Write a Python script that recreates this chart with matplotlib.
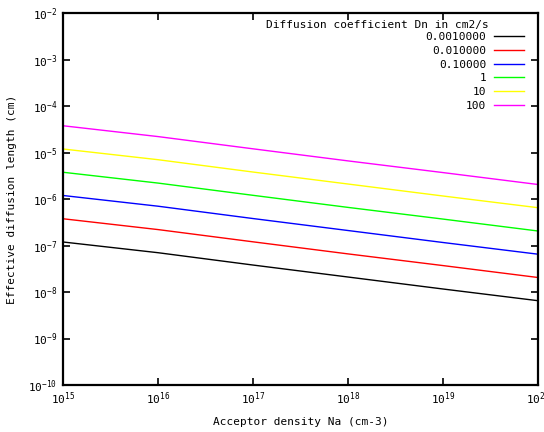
import matplotlib
matplotlib.use("Agg")
import matplotlib.pyplot as plt
from matplotlib.ticker import LogLocator, NullLocator

plt.rcParams['font.family'] = ['DejaVu Sans Mono']
plt.rcParams['mathtext.fontset'] = 'custom'
plt.rcParams['mathtext.rm'] = 'DejaVu Sans Mono'
plt.rcParams['mathtext.it'] = 'DejaVu Sans Mono'

# Acceptor density (cm-3)
na = [1e15, 1e16, 1e17, 1e18, 1e19, 1e20]

# Effective diffusion length (cm) for each diffusion coefficient Dn
l_0001 = [1.19e-7, 7.0e-8, 3.8e-8, 2.1e-8, 1.16e-8, 6.5e-9]
l_001 = [3.76e-7, 2.2e-7, 1.2e-7, 6.6e-8, 3.7e-8, 2.05e-8]
l_01 = [1.19e-6, 7.0e-7, 3.8e-7, 2.1e-7, 1.16e-7, 6.5e-8]
l_1 = [3.76e-6, 2.2e-6, 1.2e-6, 6.6e-7, 3.7e-7, 2.05e-7]
l_10 = [1.19e-5, 7.0e-6, 3.8e-6, 2.1e-6, 1.16e-6, 6.5e-7]
l_100 = [3.76e-5, 2.2e-5, 1.2e-5, 6.6e-6, 3.7e-6, 2.05e-6]

labels = ["0.0010000", "0.010000", "0.10000", "1", "10", "100"]
series = [l_0001, l_001, l_01, l_1, l_10, l_100]
colors = ["#000000", "#ff0000", "#0000ff", "#00ff00", "#ffff00", "#ff00ff"]

fig = plt.figure(figsize=(5.44, 4.32), dpi=100)
ax = fig.add_axes([63 / 544, 47 / 432, 475 / 544, 372 / 432])

for y, c, lab in zip(series, colors, labels):
    ax.plot(na, y, color=c, lw=1.0, label=lab)

ax.set_xscale('log')
ax.set_yscale('log')
ax.set_xlim(1e15, 1e20)
ax.set_ylim(1e-10, 1e-2)
ax.xaxis.set_major_locator(LogLocator(base=10, numticks=10))
ax.yaxis.set_major_locator(LogLocator(base=10, numticks=12))
ax.xaxis.set_minor_locator(NullLocator())
ax.yaxis.set_minor_locator(NullLocator())

ax.tick_params(which='major', direction='in', length=5, width=1.2,
               top=True, right=True, labelsize=8, pad=4)
for s in ax.spines.values():
    s.set_linewidth(1.6)

ax.set_xlabel("Acceptor density Na (cm-3)", fontsize=8, labelpad=7)
ax.set_ylabel("Effective diffusion length (cm)", fontsize=8, labelpad=8)

ax.text((489 - 63) / 475, (385 - 25) / 372,
        "Diffusion coefficient Dn in cm2/s", transform=ax.transAxes,
        ha='right', va='center', fontsize=8)

leg = ax.legend(loc='upper right', bbox_to_anchor=((524 - 63) / 475, (385 - 32) / 372),
                frameon=False, markerfirst=False, fontsize=8, handlelength=2.7,
                handletextpad=0.7, labelspacing=0.34, borderpad=0, borderaxespad=0)
for t in leg.get_texts():
    t.set_ha('right')
leg._legend_box.align = "right"

fig.savefig("out.png", dpi=100)
